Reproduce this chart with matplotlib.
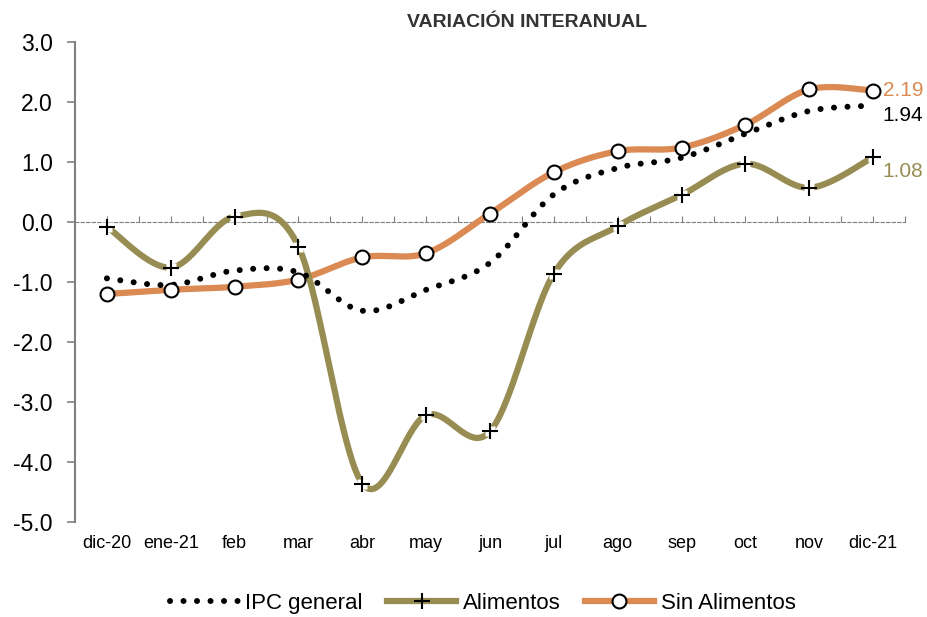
import numpy as np
import matplotlib
matplotlib.use("Agg")
import matplotlib.pyplot as plt
from matplotlib.lines import Line2D

FONT = ['Liberation Sans', 'DejaVu Sans']
plt.rcParams['font.family'] = FONT

categories = ['dic-20', 'ene-21', 'feb', 'mar', 'abr', 'may', 'jun', 'jul',
              'ago', 'sep', 'oct', 'nov', 'dic-21']
ipc_general = [-0.94, -1.05, -0.81, -0.84, -1.48, -1.13, -0.68, 0.46, 0.90, 1.07, 1.47, 1.85, 1.94]
alimentos = [-0.08, -0.76, 0.09, -0.41, -4.36, -3.22, -3.49, -0.86, -0.07, 0.45, 0.97, 0.57, 1.08]
sin_alimentos = [-1.20, -1.13, -1.08, -0.96, -0.59, -0.52, 0.14, 0.83, 1.18, 1.24, 1.62, 2.21, 2.19]
yticks = [3.0, 2.0, 1.0, 0.0, -1.0, -2.0, -3.0, -4.0, -5.0]

C_OLIVE = '#978D52'
C_ORANGE = '#DA8A52'


def smooth(y, n=40):
    """Catmull-Rom style smoothing through the points (like a spreadsheet 'smoothed line')."""
    y = np.asarray(y, float)
    x = np.arange(len(y), dtype=float)
    P = np.column_stack([x, y])
    P = np.vstack([P[0], P, P[-1]])
    out = []
    for i in range(1, len(P) - 2):
        p0, p1, p2, p3 = P[i - 1], P[i], P[i + 1], P[i + 2]
        c1 = p1 + (p2 - p0) / 6.0
        c2 = p2 - (p3 - p1) / 6.0
        t = np.linspace(0, 1, n)[:, None]
        seg = ((1 - t) ** 3) * p1 + 3 * ((1 - t) ** 2) * t * c1 + 3 * (1 - t) * t ** 2 * c2 + t ** 3 * p2
        out.append(seg if i == 1 else seg[1:])
    s = np.vstack(out)
    return s[:, 0], s[:, 1]


fig = plt.figure(figsize=(9.28, 6.17), dpi=100)
ax = fig.add_axes([0.0808, 0.154, 0.8945, 0.778])

x = np.arange(len(categories))

# lines
xs, ys = smooth(sin_alimentos)
ax.plot(xs, ys, color=C_ORANGE, lw=4.5, solid_capstyle='butt', zorder=3)
xs, ys = smooth(alimentos)
ax.plot(xs, ys, color=C_OLIVE, lw=4.5, solid_capstyle='butt', zorder=3)
xs, ys = smooth(ipc_general)
ax.plot(xs, ys, color='black', lw=4.3, linestyle=(0, (0.01, 2.25)),
        dash_capstyle='round', zorder=4)

# markers
ax.plot(x, alimentos, linestyle='none', marker='s', ms=7, mfc='white', mec='none', zorder=5)
ax.plot(x, alimentos, linestyle='none', marker='+', ms=11, mec='black', mew=1.5, zorder=6)
ax.plot(x, sin_alimentos, linestyle='none', marker='o', ms=10, mfc='white', mec='black', mew=1.5, zorder=6)

# value labels at the last point
ax.annotate(f'{sin_alimentos[-1]:.2f}', (x[-1], sin_alimentos[-1]), xytext=(7, 0),
            textcoords='offset points', ha='left', va='center', fontsize=15, color=C_ORANGE)
ax.annotate(f'{ipc_general[-1]:.2f}', (x[-1], ipc_general[-1]), xytext=(7, -7),
            textcoords='offset points', ha='left', va='center', fontsize=15, color='black')
ax.annotate(f'{alimentos[-1]:.2f}', (x[-1], alimentos[-1]), xytext=(7, -10),
            textcoords='offset points', ha='left', va='center', fontsize=15, color=C_OLIVE)

# axes styling
ax.set_xlim(-0.5, len(categories) - 0.5)
ax.set_ylim(-5.0, 3.0)
ax.set_yticks(yticks)
ax.set_yticklabels([f'{v:.1f}' for v in yticks], fontsize=16.5)
ax.tick_params(axis='y', direction='out', length=6, width=1.2, color='#808080', pad=10)

for s in ['top', 'right']:
    ax.spines[s].set_visible(False)
ax.spines['left'].set_color('#808080')
ax.spines['left'].set_linewidth(1.5)
ax.spines['bottom'].set_position(('data', 0))
ax.spines['bottom'].set_color('#7f7f7f')
ax.spines['bottom'].set_linewidth(0.8)
ax.spines['bottom'].set_linestyle((0, (3, 2)))
ax.set_xticks(np.arange(-0.5, len(categories), 0.5))
ax.tick_params(axis='x', direction='in', length=4, width=0.8, color='#7f7f7f', labelbottom=False)

for xi, lab in zip(x, categories):
    ax.text(xi, -0.045, lab, transform=ax.get_xaxis_transform(), ha='center', va='center',
            fontsize=13)

fig.text(0.568, 0.963, 'VARIACIÓN INTERANUAL', ha='center', va='center', fontsize=14,
         fontweight='bold', color='#333333')

# legend
h1 = Line2D([], [], color='black', lw=4.3, linestyle=(0, (0.01, 2.25)), dash_capstyle='round')
h2 = Line2D([], [], color=C_OLIVE, lw=4.5, marker='+', ms=11, mec='black', mew=1.5)
h3 = Line2D([], [], color=C_ORANGE, lw=4.5, marker='o', ms=10, mfc='white', mec='black', mew=1.5)
fig.legend([h1, h2, h3], ['IPC general', 'Alimentos', 'Sin Alimentos'], loc='center',
           bbox_to_anchor=(0.52, 0.022), ncol=3, frameon=False, fontsize=16,
           handlelength=3.1, handletextpad=0.3, columnspacing=1.1)

fig.savefig('out.png', dpi=100)
